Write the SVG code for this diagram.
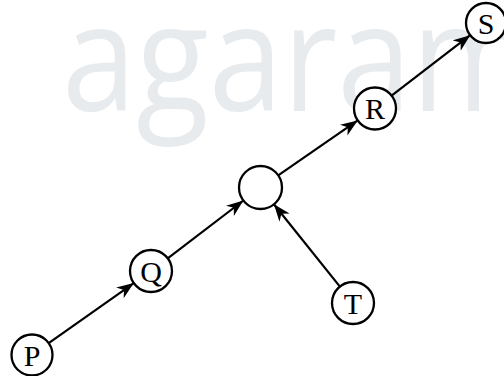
<svg xmlns="http://www.w3.org/2000/svg" width="504" height="376" viewBox="0 0 504 376">
<style>
.wm{font-family:"Open Sans","DejaVu Sans",sans-serif;font-size:150px;fill:#e8ebee}
.edge{stroke:#000;stroke-width:2.2;fill:none;marker-end:url(#ah)}
.node circle{fill:#fff;stroke:#000;stroke-width:2.3}
.node text{font-family:"Liberation Serif","Times New Roman",serif;font-size:30px;fill:#000;text-anchor:middle}
</style>
<defs>
<marker id="ah" markerUnits="userSpaceOnUse" markerWidth="18" markerHeight="14" refX="17" refY="6.5" orient="auto">
<path d="M0,0 L17,6.5 L0,13 L5,6.5 z" fill="#000"/>
</marker>
</defs>
<rect width="504" height="376" fill="#fff"/>
<text class="wm" transform="translate(62,111) scale(0.89,1)">agaram</text>
<g id="connectors">
<line class="edge" x1="48.7" y1="343.2" x2="133.8" y2="283.1"/>
<line class="edge" x1="167.7" y1="258.3" x2="243.4" y2="200.5"/>
<line class="edge" x1="278.2" y1="175.3" x2="357.7" y2="120.4"/>
<line class="edge" x1="391.6" y1="95.7" x2="470.2" y2="35.2"/>
<line class="edge" x1="339.9" y1="286.6" x2="273.9" y2="204.3"/>
</g>
<g id="P" class="node"><circle cx="32" cy="355" r="20.5"/><text x="32" y="365.5">P</text></g>
<g id="Q" class="node"><circle cx="151" cy="271" r="21"/><text x="151" y="281.5">Q</text></g>
<g id="O" class="node"><circle cx="260.5" cy="187.5" r="21.5"/></g>
<g id="R" class="node"><circle cx="375" cy="108.5" r="21"/><text x="375" y="119">R</text></g>
<g id="S" class="node"><circle cx="486" cy="23" r="20"/><text x="486" y="33.5">S</text></g>
<g id="T" class="node"><circle cx="353" cy="303" r="21"/><text x="353" y="313.5">T</text></g>
</svg>
